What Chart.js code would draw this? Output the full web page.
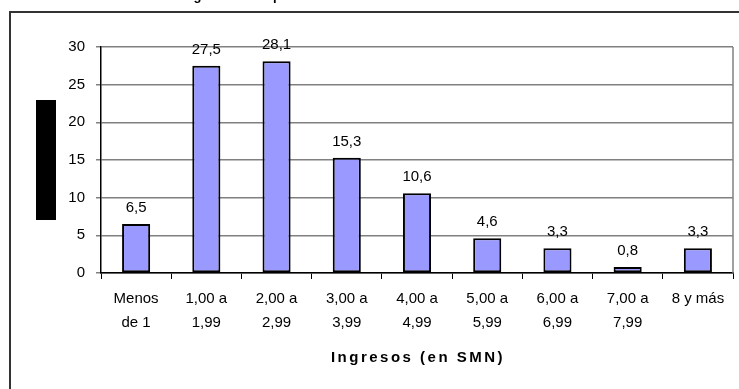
<!DOCTYPE html>
<html>
<head>
<meta charset="utf-8">
<script src="https://cdn.jsdelivr.net/npm/chart.js@4.4.1/dist/chart.umd.min.js"></script>
<style>
    body { margin: 0; background: #fff; overflow: hidden; }
    #wrap { position: relative; width: 739px; height: 389px; overflow: hidden; }
    #frame { position: absolute; left: 9px; top: 11px; width: 760px; height: 420px; border: 2px solid #333; box-sizing: border-box; }
    #ingresos { position: absolute; left: 0; top: 0; }
</style>
</head>
<body>
<div id="wrap">
    <div id="frame"></div>
    <canvas id="ingresos" width="739" height="389"></canvas>
</div>
<script>
// tramos de ingreso y porcentaje de cada uno
var categorias = [
    ['Menos', 'de 1'],
    ['1,00 a', '1,99'],
    ['2,00 a', '2,99'],
    ['3,00 a', '3,99'],
    ['4,00 a', '4,99'],
    ['5,00 a', '5,99'],
    ['6,00 a', '6,99'],
    ['7,00 a', '7,99'],
    ['8 y más']
];
var porcentajes = [6.5, 27.5, 28.1, 15.3, 10.6, 4.6, 3.3, 0.8, 3.3];
var ticksY = [0, 5, 10, 15, 20, 25, 30];

var tituloGrafico = 'Ingresos de la población';
var tituloEjeX = 'Ingresos (en SMN)';

var fuente = 'Arial, "Liberation Sans"';

// valores encima de cada barra, con coma decimal
var etiquetas = {
    id: 'etiquetas',
    afterDatasetsDraw(chart) {
        var ctx = chart.ctx;
        var meta = chart.getDatasetMeta(0);
        ctx.save();
        ctx.font = '15px ' + fuente;
        ctx.fillStyle = '#000';
        ctx.textAlign = 'center';
        ctx.textBaseline = 'alphabetic';
        meta.data.forEach((bar, i) => {
            var txt = porcentajes[i].toFixed(1).replace('.', ',');
            ctx.fillText(txt, bar.x, bar.y - 12);
        });
        ctx.restore();
    }
};

// título del eje x, título cortado arriba y el bloque negro a la izquierda
var extras = {
    id: 'extras',
    afterDraw(chart) {
        var ctx = chart.ctx;
        var area = chart.chartArea;
        ctx.save();
        ctx.fillStyle = '#000';
        ctx.textAlign = 'center';
        ctx.font = 'bold 15px ' + fuente;
        ctx.letterSpacing = '2.5px';
        ctx.textBaseline = 'middle';
        ctx.fillText(tituloEjeX, (area.left + area.right) / 2 + 1, 358);

        ctx.letterSpacing = '0px';
        ctx.textAlign = 'left';
        ctx.textBaseline = 'alphabetic';
        ctx.font = 'bold 13px ' + fuente;
        ctx.fillText(tituloGrafico, 182, 0);

        ctx.fillRect(36, 100, 20, 120);
        ctx.restore();
    }
};

// borde gris a la derecha del área del gráfico
var bordeDerecho = {
    id: 'bordeDerecho',
    beforeDatasetsDraw(chart) {
        var ctx = chart.ctx;
        var a = chart.chartArea;
        ctx.save();
        ctx.strokeStyle = '#808080';
        ctx.lineWidth = 1.5;
        ctx.beginPath();
        ctx.moveTo(a.right, a.top);
        ctx.lineTo(a.right, a.bottom);
        ctx.stroke();
        ctx.restore();
    }
};

var config = {
    type: 'bar',
    data: {
        labels: categorias,
        datasets: [{
            data: porcentajes,
            backgroundColor: '#9999ff',
            borderColor: '#000',
            borderWidth: 2,
            borderSkipped: false,
            barPercentage: 0.4,
            categoryPercentage: 1
        }]
    },
    options: {
        responsive: false,
        animation: false,
        layout: { padding: { left: 0, right: 6, top: 47, bottom: 0 } },
        plugins: {
            legend: { display: false },
            tooltip: { enabled: false }
        },
        scales: {
            x: {
                offset: true,
                grid: {
                    offset: true,
                    drawOnChartArea: false,
                    tickLength: 6,
                    tickColor: '#000',
                    tickWidth: 1
                },
                border: { color: '#000', width: 1.5 },
                ticks: {
                    color: '#000',
                    font: { family: fuente, size: 15, lineHeight: 1.6 },
                    maxRotation: 0,
                    padding: 8
                },
                afterFit(scale) { scale.height = 116; }
            },
            y: {
                min: 0,
                max: 30,
                afterBuildTicks(scale) {
                    scale.ticks = ticksY.map(v => ({ value: v }));
                },
                grid: {
                    color: '#808080',
                    lineWidth: 1.5,
                    tickLength: 5,
                    tickColor: '#808080'
                },
                border: { color: '#000', width: 1.5 },
                ticks: {
                    color: '#000',
                    font: { family: fuente, size: 15 },
                    padding: 11
                },
                afterFit(scale) { scale.width = 101; }
            }
        }
    },
    plugins: [etiquetas, extras, bordeDerecho]
};

var ctx = document.getElementById('ingresos').getContext('2d');
window.graficoIngresos = new Chart(ctx, config);
</script>
</body>
</html>
